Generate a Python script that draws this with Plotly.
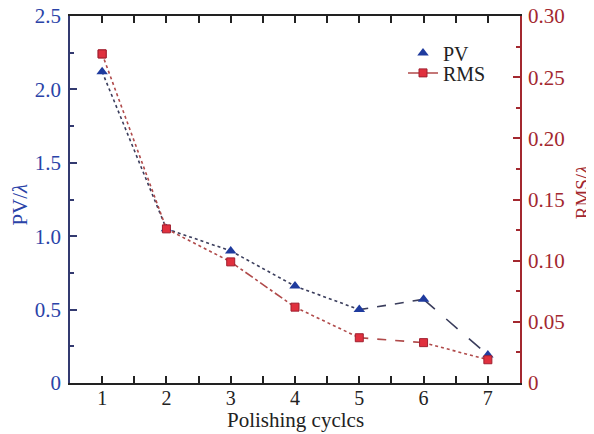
import plotly.graph_objects as go

cycles = [1, 2, 3, 4, 5, 6, 7]
pv = [2.12, 1.05, 0.90, 0.66, 0.50, 0.57, 0.19]
rms = [0.269, 0.126, 0.099, 0.062, 0.037, 0.033, 0.019]
x_ticks = [1, 2, 3, 4, 5, 6, 7]
pv_ticks = [0, 0.5, 1.0, 1.5, 2.0, 2.5]
pv_tick_text = ["0", "0.5", "1.0", "1.5", "2.0", "2.5"]
rms_ticks = [0, 0.05, 0.10, 0.15, 0.20, 0.25, 0.30]
rms_tick_text = ["0", "0.05", "0.10", "0.15", "0.20", "0.25", "0.30"]

pv_dashes = ["dot", "dot", "dot", "dot", "dash", "longdash"]
rms_dashes = ["dot", "dot", "dashdot", "dot", "dash", "dot"]

BLUE = "#2a43a8"
RED = "#a3282f"
FONT = "Liberation Serif"

fig = go.Figure()

for i in range(len(cycles) - 1):
    fig.add_trace(go.Scatter(
        x=cycles[i:i + 2], y=pv[i:i + 2], mode="lines",
        line=dict(color="#3a3d5c", width=1.6, dash=pv_dashes[i]),
        showlegend=False, hoverinfo="skip", yaxis="y"))
    fig.add_trace(go.Scatter(
        x=cycles[i:i + 2], y=rms[i:i + 2], mode="lines",
        line=dict(color="#b04a4a", width=1.6, dash=rms_dashes[i]),
        showlegend=False, hoverinfo="skip", yaxis="y2"))

fig.add_trace(go.Scatter(
    x=cycles, y=pv, mode="markers", name="PV", legend="legend",
    marker=dict(symbol="triangle-up", size=10, color="#1f3b9e"),
    yaxis="y"))
fig.add_trace(go.Scatter(
    x=cycles, y=rms, mode="markers", name="RMS", showlegend=False,
    marker=dict(symbol="square", size=8, color="#e0303e",
                line=dict(color="#a02030", width=1)),
    yaxis="y2"))
# legend entry for RMS (line + square sample), sitting on the first RMS point
fig.add_trace(go.Scatter(
    x=cycles[:1], y=rms[:1], mode="lines+markers", name="RMS", legend="legend2",
    line=dict(color="#b04a4a", width=1.5),
    marker=dict(symbol="square", size=8, color="#e0303e",
                line=dict(color="#a02030", width=1)),
    hoverinfo="skip", yaxis="y2"))

legend_style = dict(xanchor="left", yanchor="middle", bgcolor="rgba(0,0,0,0)",
                    font=dict(family=FONT, size=20, color="#222"), itemwidth=30)

fig.update_layout(
    width=586, height=426,
    margin=dict(l=62, r=74, t=8, b=51),
    paper_bgcolor="white", plot_bgcolor="white",
    font=dict(family=FONT, size=20, color="#222"),
    xaxis=dict(
        range=[0.5, 7.5], tickvals=x_ticks, ticks="inside", ticklen=7,
        tickwidth=1.5, tickcolor="#222", showline=True, linecolor="#222",
        linewidth=1.5, mirror="allticks", showgrid=False, zeroline=False,
        automargin=False, ticklabelstandoff=-4, ticklabeloverflow="allow",
        tickfont=dict(family=FONT, size=20, color="#222"),
        minor=dict(dtick=0.5, tick0=0.5, ticks="inside", ticklen=4, tickcolor="#222"),
    ),
    yaxis=dict(
        range=[0, 2.5], tickvals=pv_ticks, ticktext=pv_tick_text,
        ticks="inside", ticklen=7, tickwidth=1.5, tickcolor="#333a70",
        showline=True, linecolor="#333a70", linewidth=1.5,
        showgrid=False, zeroline=False, automargin=False, ticklabelstandoff=3,
        ticklabeloverflow="allow",
        tickfont=dict(family=FONT, size=21, color=BLUE),
        minor=dict(dtick=0.25, tick0=0, ticks="inside", ticklen=4, tickcolor="#333a70"),
    ),
    yaxis2=dict(
        range=[0, 0.30], tickvals=rms_ticks, ticktext=rms_tick_text,
        overlaying="y", side="right", anchor="x",
        ticks="inside", ticklen=7, tickwidth=1.5, tickcolor=RED,
        showline=True, linecolor=RED, linewidth=1.5,
        showgrid=False, zeroline=False, automargin=False, ticklabelstandoff=2,
        ticklabeloverflow="allow",
        tickfont=dict(family=FONT, size=21, color=RED),
        minor=dict(dtick=0.025, tick0=0, ticks="inside", ticklen=4, tickcolor=RED),
    ),
    legend=dict(x=0.74, y=0.899, **legend_style),
    legend2=dict(x=0.74, y=0.845, **legend_style),
    annotations=[
        dict(text="Polishing cyclcs", xref="paper", yref="paper", x=0.5, y=-0.101,
             xanchor="center", yanchor="middle", showarrow=False,
             font=dict(family=FONT, size=21, color="#222")),
        dict(text="PV/<i>λ</i>", xref="paper", yref="paper", x=-0.112, y=0.485,
             xanchor="center", yanchor="middle", showarrow=False, textangle=-90,
             font=dict(family=FONT, size=21, color=BLUE)),
        dict(text="RMS/<i>λ</i>", xref="paper", yref="paper", x=1.138, y=0.52,
             xanchor="center", yanchor="middle", showarrow=False, textangle=-90,
             font=dict(family=FONT, size=19, color=RED)),
    ],
    showlegend=True,
)

fig.write_html("out.html")
